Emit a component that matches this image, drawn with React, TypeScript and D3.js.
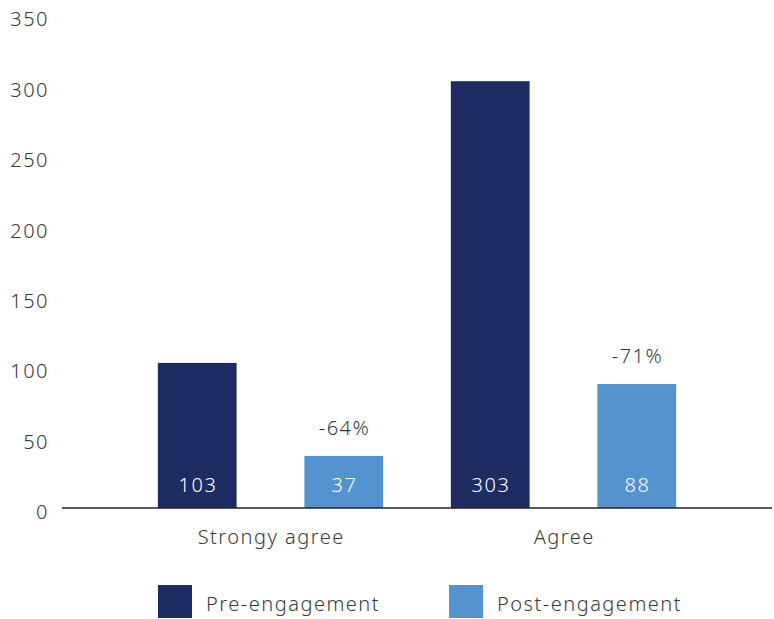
import React, { useRef, useEffect } from "react";
import * as d3 from "d3";

const categories = ["Strongy agree", "Agree"];
const seriesNames = ["Pre-engagement", "Post-engagement"];
const preValues = [103, 303];
const postValues = [37, 88];
const changeLabels = ["-64%", "-71%"];
const yTicks = [0, 50, 100, 150, 200, 250, 300, 350];

const colors = ["#1f2b63", "#5593d0"];
const font = "'Noto Sans', 'DejaVu Sans', sans-serif";

const App = () => {
    const canvas = useRef<SVGSVGElement>(null);

    const width = 774;
    const height = 619;

    useEffect(() => {
        const svg = d3.select(canvas.current);
        svg.selectAll("*").remove();

        const yScale = d3.scaleLinear().domain([0, 350]).range([508, 15]);
        const xScale = d3.scaleBand<string>().domain(categories).range([124, 710]).padding(0);
        const inner = d3.scaleBand<string>().domain(seriesNames)
            .range([0, xScale.bandwidth()])
            .paddingInner(0.4626).paddingOuter(0.231);

        const txt = (sel: any, color: string) => sel
            .style("font-family", font)
            .style("font-size", "20px")
            .style("font-weight", 300)
            .style("letter-spacing", "1.5px")
            .style("fill", color);

        // y tick labels (no axis line)
        txt(svg.append("g").selectAll("text")
            .data(yTicks)
            .enter().append("text")
            .attr("x", 49)
            .attr("y", (d: number) => yScale(d) + 6)
            .attr("text-anchor", "end")
            .attr("dominant-baseline", "middle")
            .text((d: number) => d), "#3a3a3a");

        const rows = categories.map((c, i) => ({ cat: c, values: [preValues[i], postValues[i]], change: changeLabels[i] }));

        const groups = svg.append("g").selectAll("g")
            .data(rows)
            .enter().append("g")
            .attr("transform", (d: any) => "translate(" + xScale(d.cat) + ",0)");

        groups.selectAll("rect")
            .data((d: any) => d.values.map((v: number, j: number) => ({ v, s: seriesNames[j], j })))
            .enter().append("rect")
            .attr("x", (d: any) => inner(d.s))
            .attr("y", (d: any) => yScale(d.v))
            .attr("width", inner.bandwidth())
            .attr("height", (d: any) => yScale(0) - yScale(d.v))
            .style("fill", (d: any) => colors[d.j]);

        txt(groups.selectAll("text.val")
            .data((d: any) => d.values.map((v: number, j: number) => ({ v, s: seriesNames[j] })))
            .enter().append("text")
            .attr("class", "val")
            .attr("x", (d: any) => (inner(d.s) as number) + inner.bandwidth() / 2 + 0.75)
            .attr("y", yScale(0) - 21)
            .attr("text-anchor", "middle")
            .attr("dominant-baseline", "middle")
            .text((d: any) => d.v), "#ffffff");

        txt(groups.append("text")
            .attr("x", (inner(seriesNames[1]) as number) + inner.bandwidth() / 2 + 0.75)
            .attr("y", (d: any) => yScale(d.values[1]) - 26)
            .attr("text-anchor", "middle")
            .attr("dominant-baseline", "middle")
            .text((d: any) => d.change), "#3a3a3a");

        txt(groups.append("text")
            .attr("x", xScale.bandwidth() / 2 + 0.75)
            .attr("y", 539)
            .attr("text-anchor", "middle")
            .attr("dominant-baseline", "middle")
            .text((d: any) => d.cat), "#3a3a3a");

        // baseline
        svg.append("line")
            .attr("x1", 62).attr("x2", 772)
            .attr("y1", yScale(0)).attr("y2", yScale(0))
            .style("stroke", "#222")
            .style("stroke-width", 1.5);

        // legend
        const legendX = [158, 449];
        const legend = svg.append("g").selectAll("g")
            .data(seriesNames)
            .enter().append("g")
            .attr("transform", (_d: string, i: number) => "translate(" + legendX[i] + ",585)");
        legend.append("rect")
            .attr("width", 34).attr("height", 33)
            .style("fill", (_d: string, i: number) => colors[i]);
        txt(legend.append("text")
            .attr("x", 48).attr("y", 21)
            .attr("dominant-baseline", "middle")
            .text((d: string) => d), "#3a3a3a");
    });

    return (
        <svg ref={canvas} width={width} height={height}
            style={{ position: "absolute", left: 0, top: 0, background: "#fff" }}></svg>
    );
};

export default App;
